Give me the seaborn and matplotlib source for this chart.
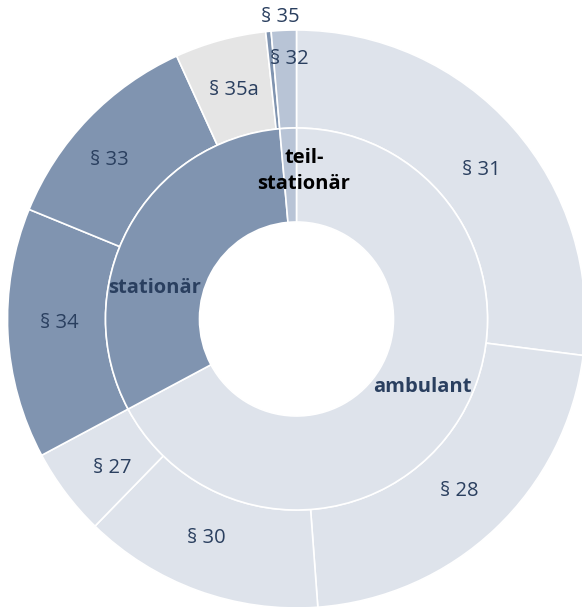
import matplotlib
matplotlib.use("Agg")
import matplotlib.pyplot as plt
import seaborn as sns
import numpy as np

sns.set_theme(style="white")
plt.rcParams['font.family'] = ['Open Sans', 'DejaVu Sans']

# Outer ring (children), clockwise from 12 o'clock, values in percent
outer_labels = ["§ 31", "§ 28", "§ 30", "§ 27", "§ 34", "§ 33", "§ 35a", "§ 35", "§ 32"]
outer_values = [27.0, 21.8, 13.45, 4.9, 14.0, 12.0, 5.1, 0.3, 1.4]
outer_parent = ["ambulant", "ambulant", "ambulant", "ambulant",
                "stationär", "stationär", "stationär", "stationär", "teil-stationär"]

# Inner ring (parents)
inner_labels = ["ambulant", "stationär", "teil-stationär"]
inner_display = ["ambulant", "stationär", "teil-\nstationär"]
inner_values = [sum(v for v, p in zip(outer_values, outer_parent) if p == lab) for lab in inner_labels]

# colours
parent_colors = {"ambulant": "#dee3eb", "stationär": "#8094b0", "teil-stationär": "#b8c4d6"}
outer_colors = [parent_colors[p] for p in outer_parent]
outer_colors[outer_labels.index("§ 35a")] = "#e5e5e5"
inner_colors = [parent_colors[l] for l in inner_labels]

W, H = 582, 607
cx, cy, R = 296.5, 319.0, 289.0
fig = plt.figure(figsize=(W / 100, H / 100), dpi=100)
ax = fig.add_axes([0, 0, 1, 1])
ax.set_aspect("equal")
ax.axis("off")

wp = dict(edgecolor="white", linewidth=1.2)
r_mid = 191 / R
r_hole = 97 / R
ax.pie(outer_values, radius=1.0, colors=outer_colors, startangle=90, counterclock=False,
       wedgeprops=dict(width=1.0 - r_mid, **wp), normalize=True)
ax.pie(inner_values, radius=r_mid, colors=inner_colors, startangle=90, counterclock=False,
       wedgeprops=dict(width=r_mid - r_hole, **wp), normalize=True)
ax.set_xlim(-cx / R, (W - cx) / R)
ax.set_ylim(-(H - cy) / R, cy / R)

text_color = "#2a3f5f"
# outer labels at mid-angle
total = sum(outer_values)
cum = 0.0
label_r = {"§ 32": 0.90, "§ 35": 1.045, "§ 33": 0.85}
label_da = {"§ 31": 2.5, "§ 33": -3.5, "§ 30": 2.5, "§ 27": -2.0, "§ 34": 2.0, "§ 32": 1.0, "§ 35": 2.5}
for lab, v in zip(outer_labels, outer_values):
    mid = (cum + v / 2) / total * 360 + label_da.get(lab, 0)
    cum += v
    r = label_r.get(lab, 0.82)
    th = np.deg2rad(90 - mid)
    ax.text(r * np.cos(th), r * np.sin(th), lab, ha="center", va="center",
            fontsize=14.5, color=text_color)

inner_pos = {"ambulant": (0.434, -0.235), "stationär": (-0.49, 0.107), "teil-stationär": (0.026, 0.512)}
inner_tc = {"ambulant": text_color, "stationär": text_color, "teil-stationär": "black"}
for lab, disp in zip(inner_labels, inner_display):
    x, y = inner_pos[lab]
    ax.text(x, y, disp, ha="center", va="center", fontsize=14.5, fontweight="bold",
            color=inner_tc[lab], linespacing=1.35)

fig.savefig("out.png", dpi=100)
